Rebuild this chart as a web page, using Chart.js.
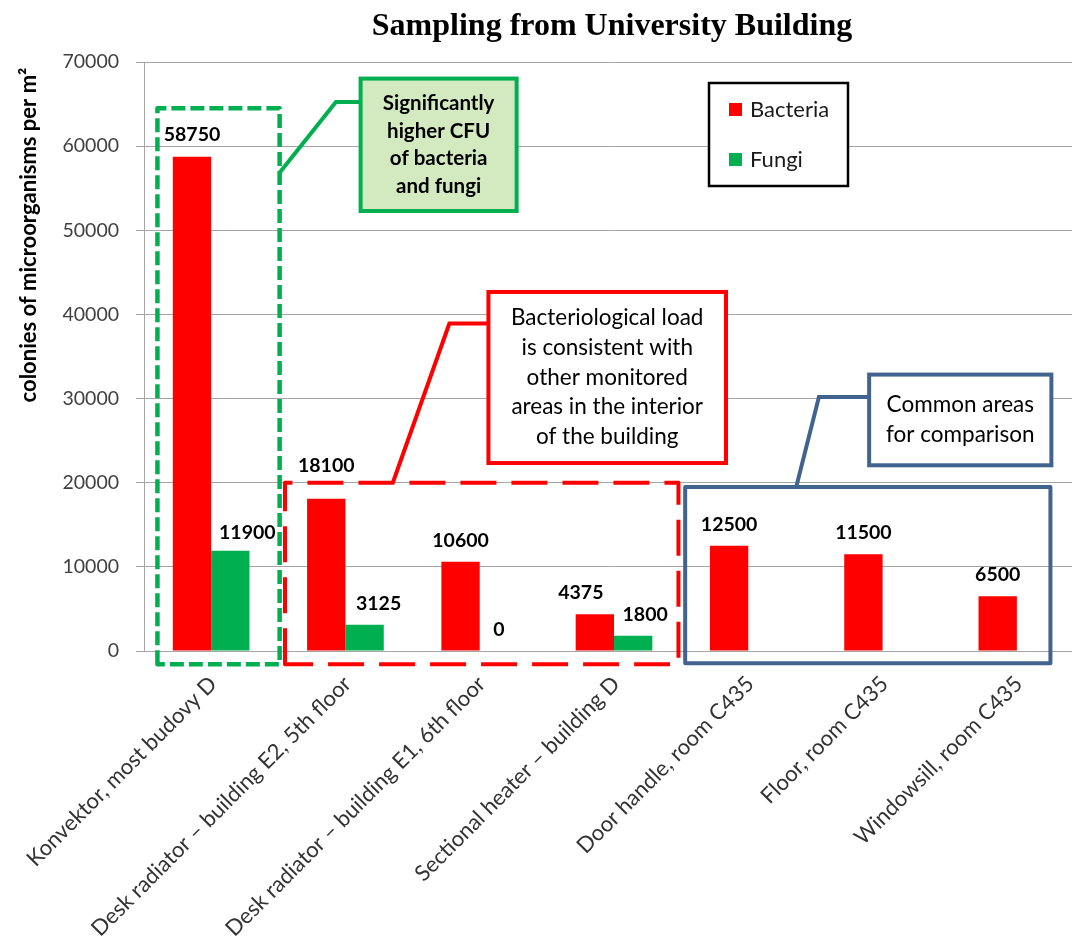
<!DOCTYPE html>
<html>
<head>
<meta charset="utf-8">
<title>Sampling from University Building</title>
<script src="https://cdn.jsdelivr.net/npm/chart.js@4/dist/chart.umd.min.js"></script>
<style>
  html, body { margin: 0; padding: 0; background: #fff; overflow: hidden; }
  #wrap { width: 1100px; height: 938px; }
</style>
</head>
<body>
<div id="wrap"><canvas id="samplingChart" width="1100" height="938"></canvas></div>
<script>
// --- data ---
const sites = [
    'Konvektor, most budovy D',
    'Desk radiator – building E2, 5th floor',
    'Desk radiator – building E1, 6th floor',
    'Sectional heater – building D',
    'Door handle, room C435',
    'Floor, room C435',
    'Windowsill, room C435'
];
const bacteria = [58750, 18100, 10600, 4375, 12500, 11500, 6500];
const fungi = [11900, 3125, 0, 1800, null, null, null];

const yMin = 0, yMax = 70000, yStep = 10000;

const chartTitle = 'Sampling from University Building';
const yTitle = 'colonies of microorganisms per m²';

const noteHigh = ['Significantly', 'higher CFU', 'of bacteria', 'and fungi'];
const noteLoad = ['Bacteriological load', 'is consistent with', 'other monitored', 'areas in the interior', 'of the building'];
const noteCommon = ['Common areas', 'for comparison'];

// --- look ---
const FONT = 'Lato, "Open Sans", sans-serif';
const RED = '#ff0000', GREEN = '#00b050', BLUE = '#41648f', GRID = '#a6a6a6';

// small nudges for value labels that would collide [dx, dy]
const bacteriaLabelNudge = [[0, -1], [0, -12], [0, 0], [-14, 0], [0, 0], [0, 0], [0, 0]];
const fungiLabelNudge = [[17, 3], [14, 0], [0, 0], [12, 0], [0, 0], [0, 0], [0, 0]];

// group frames, in axis units (category index, CFU)
const frames = [
    { x0: -0.40, x1: 0.51, top: 64500, bottom: -1580, color: GREEN, width: 4.5, dash: [14, 5] },
    { x0: 0.55, x1: 3.48, top: 20000, bottom: -1580, color: RED, width: 4, dash: [36, 15] },
    { x0: 3.53, x1: 6.25, top: 19500, bottom: -1460, color: BLUE, width: 4, dash: [] }
];

// callout boxes with their leader lines, also in axis units
const callouts = [
    { x0: 1.113, x1: 2.275, top: 68030, bottom: 52290, color: GREEN, fill: '#d3e9bf',
      lines: noteHigh, bold: true, size: 20.5, lh: 27.7,
      leader: [[1.113, 65250], [0.929, 65250], [0.514, 56930]] },
    { x0: 2.065, x1: 3.834, top: 42670, bottom: 22340, color: RED, fill: '#ffffff',
      lines: noteLoad, bold: false, size: 22.5, lh: 29.7,
      leader: [[2.065, 38910], [1.774, 38910], [1.353, 20000]] },
    { x0: 4.900, x1: 6.257, top: 32850, bottom: 22070, color: BLUE, fill: '#ffffff',
      lines: noteCommon, bold: false, size: 22.5, lh: 30.6,
      leader: [[4.900, 30190], [4.526, 30190], [4.357, 19500]] }
];

const legendBox = { x: 709, y: 83, w: 139, h: 103 };

const overlay = {
    id: 'overlay',
    afterDatasetsDraw(chart) {
        const { ctx, scales: { x, y } } = chart;
        const px = i => x.getPixelForValue(i);
        const py = v => y.getPixelForValue(v);

        ctx.save();

        // value labels above the bars
        ctx.fillStyle = '#000';
        ctx.font = `bold 19.5px ${FONT}`;
        ctx.textAlign = 'center';
        ctx.textBaseline = 'alphabetic';
        [bacteriaLabelNudge, fungiLabelNudge].forEach((nudge, d) => {
            const values = chart.data.datasets[d].data;
            chart.getDatasetMeta(d).data.forEach((bar, i) => {
                if (values[i] === null) return;
                ctx.fillText(String(values[i]), bar.x + nudge[i][0], bar.y - 15 + nudge[i][1]);
            });
        });

        // dashed / solid frames round the groups
        frames.forEach(f => {
            ctx.strokeStyle = f.color;
            ctx.lineWidth = f.width;
            ctx.setLineDash(f.dash);
            ctx.lineJoin = 'round';
            ctx.beginPath();
            ctx.moveTo(px(f.x0), py(f.bottom));
            ctx.lineTo(px(f.x0), py(f.top));
            ctx.lineTo(px(f.x1), py(f.top));
            ctx.lineTo(px(f.x1), py(f.bottom));
            ctx.closePath();
            ctx.stroke();
        });
        ctx.setLineDash([]);

        // callouts
        callouts.forEach(c => {
            ctx.strokeStyle = c.color;
            ctx.lineWidth = 4;
            ctx.lineJoin = 'miter';
            ctx.beginPath();
            c.leader.forEach(([i, v], k) => k ? ctx.lineTo(px(i), py(v)) : ctx.moveTo(px(i), py(v)));
            ctx.stroke();

            const l = px(c.x0), r = px(c.x1), t = py(c.top), b = py(c.bottom);
            ctx.fillStyle = c.fill;
            ctx.fillRect(l, t, r - l, b - t);
            ctx.strokeRect(l, t, r - l, b - t);

            ctx.fillStyle = '#000';
            ctx.font = `${c.bold ? 'bold ' : ''}${c.size}px ${FONT}`;
            ctx.textAlign = 'center';
            ctx.textBaseline = 'middle';
            const cy = (t + b) / 2 - (c.lines.length - 1) * c.lh / 2;
            c.lines.forEach((line, k) => ctx.fillText(line, (l + r) / 2, cy + k * c.lh));
        });

        // legend
        const L = legendBox;
        ctx.fillStyle = '#fff';
        ctx.fillRect(L.x, L.y, L.w, L.h);
        ctx.strokeStyle = '#000';
        ctx.lineWidth = 2.5;
        ctx.strokeRect(L.x, L.y, L.w, L.h);
        ctx.font = `22px ${FONT}`;
        ctx.textAlign = 'left';
        ctx.textBaseline = 'alphabetic';
        chart.data.datasets.forEach((ds, d) => {
            const top = L.y + 20 + d * 50;
            ctx.fillStyle = ds.backgroundColor;
            ctx.fillRect(L.x + 20, top, 13, 13);
            ctx.fillStyle = '#1a1a1a';
            ctx.fillText(ds.label, L.x + 41, top + 14);
        });

        ctx.restore();
    },
    afterDraw(chart) {
        const { ctx } = chart;
        ctx.save();
        ctx.fillStyle = '#000';
        ctx.textAlign = 'center';
        ctx.textBaseline = 'alphabetic';
        ctx.font = 'bold 32px "Liberation Serif", "Times New Roman", serif';
        ctx.fillText(chartTitle, 612, 35);

        ctx.translate(28.5, 235);
        ctx.rotate(-Math.PI / 2);
        ctx.textBaseline = 'middle';
        ctx.font = `bold 22px ${FONT}`;
        ctx.fillText(yTitle, 0, 0);
        ctx.restore();
    }
};

const ctx = document.getElementById('samplingChart').getContext('2d');
const samplingChart = new Chart(ctx, {
    type: 'bar',
    data: {
        labels: sites,
        datasets: [
            { label: 'Bacteria', data: bacteria, backgroundColor: RED },
            { label: 'Fungi', data: fungi, backgroundColor: GREEN }
        ]
    },
    options: {
        responsive: false,
        devicePixelRatio: 1,
        animation: false,
        layout: { padding: { left: 0, top: 62, right: 16, bottom: 0 } },
        datasets: { bar: { categoryPercentage: 0.571, barPercentage: 1 } },
        plugins: {
            legend: { display: false },
            tooltip: { enabled: false },
            title: { display: false }
        },
        scales: {
            x: {
                grid: { display: false },
                border: { display: false },
                ticks: {
                    color: '#333',
                    font: { family: FONT, size: 22 },
                    minRotation: 45, maxRotation: 45,
                    autoSkip: false,
                    padding: 12,
                    labelOffset: 2
                },
                afterFit(s) { s.height = 938 - 651; s.paddingLeft = 0; s.paddingRight = 0; }
            },
            y: {
                min: yMin, max: yMax,
                ticks: {
                    stepSize: yStep,
                    color: '#404040',
                    font: { family: FONT, size: 19.5 },
                    padding: 17,
                    callback: v => String(v)
                },
                grid: { color: GRID, lineWidth: 1, tickLength: 8 },
                border: { color: GRID, width: 1 },
                afterFit(s) { s.width = 144; s.paddingTop = 0; s.paddingBottom = 0; }
            }
        }
    },
    plugins: [overlay]
});
</script>
</body>
</html>
